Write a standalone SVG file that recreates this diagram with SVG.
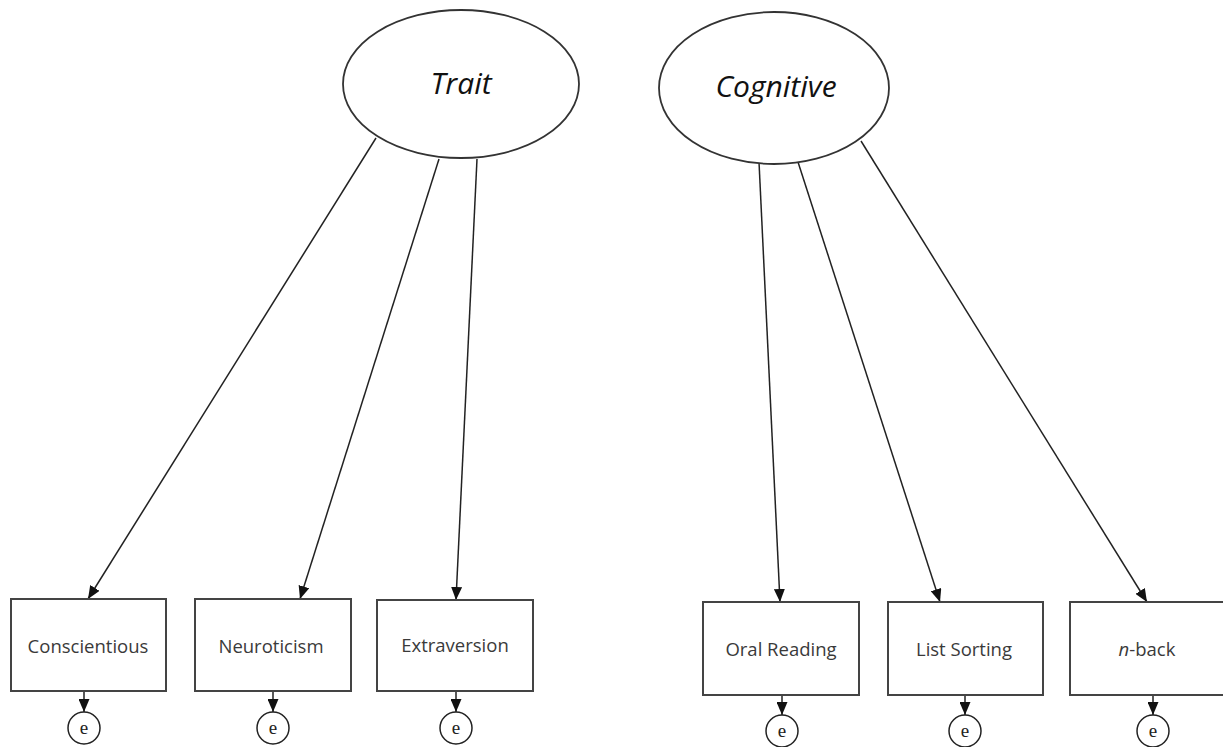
<svg xmlns="http://www.w3.org/2000/svg" width="1223" height="747" viewBox="0 0 1223 747">
<style>
.lat{fill:#fff;stroke:#333;stroke-width:1.8}
.lt{font-family:"Open Sans","Liberation Sans",sans-serif;font-style:italic;font-size:30px;fill:#111;text-anchor:middle}
.box{fill:#fff;stroke:#444;stroke-width:2}
.bt{font-family:"Open Sans","Liberation Sans",sans-serif;font-size:18.5px;fill:#3a3a3a;text-anchor:middle}
.err{fill:#fff;stroke:#222;stroke-width:1.5}
.et{font-family:"Liberation Serif",serif;font-size:19px;fill:#222;text-anchor:middle}
.c{stroke:#222;stroke-width:1.5;fill:none;marker-end:url(#ah)}
</style>
<defs>
<marker id="ah" markerUnits="userSpaceOnUse" markerWidth="13" markerHeight="11" viewBox="0 0 13 11" refX="13" refY="5.5" orient="auto">
<path d="M0,0 L13,5.5 L0,11 z" fill="#111"/>
</marker>
</defs>
<rect width="1223" height="747" fill="#fff"/>
<g id="connectors">
<line class="c" x1="376" y1="138" x2="88" y2="599"/>
<line class="c" x1="439" y1="159" x2="300" y2="599"/>
<line class="c" x1="477" y1="159" x2="456" y2="600"/>
<line class="c" x1="759" y1="162" x2="780" y2="602"/>
<line class="c" x1="798" y1="162" x2="940" y2="602"/>
<line class="c" x1="861" y1="141" x2="1147" y2="602"/>
<line class="c" x1="84" y1="692" x2="84" y2="712"/>
<line class="c" x1="273" y1="692" x2="273" y2="712"/>
<line class="c" x1="456" y1="692" x2="456" y2="712"/>
<line class="c" x1="782" y1="696" x2="782" y2="715"/>
<line class="c" x1="965" y1="696" x2="965" y2="715"/>
<line class="c" x1="1153" y1="696" x2="1153" y2="715"/>
</g>
<g id="trait">
<ellipse class="lat" cx="461" cy="84" rx="118" ry="74"/>
<text class="lt" x="461" y="94">Trait</text>
</g>
<g id="cognitive">
<ellipse class="lat" cx="774" cy="88" rx="115" ry="76"/>
<text class="lt" x="776" y="97">Cognitive</text>
</g>
<g id="conscientious">
<rect class="box" x="11" y="599" width="155" height="92"/>
<text class="bt" x="88" y="653">Conscientious</text>
</g>
<g id="neuroticism">
<rect class="box" x="195" y="599" width="156" height="92"/>
<text class="bt" x="271" y="653">Neuroticism</text>
</g>
<g id="extraversion">
<rect class="box" x="377" y="600" width="156" height="91"/>
<text class="bt" x="455" y="652">Extraversion</text>
</g>
<g id="oral-reading">
<rect class="box" x="703" y="602" width="156" height="93"/>
<text class="bt" x="781" y="656">Oral Reading</text>
</g>
<g id="list-sorting">
<rect class="box" x="888" y="602" width="155" height="93"/>
<text class="bt" x="964" y="656">List Sorting</text>
</g>
<g id="n-back">
<rect class="box" x="1070" y="602" width="156" height="93"/>
<text class="bt" x="1147" y="656"><tspan font-style="italic">n</tspan>-back</text>
</g>
<g id="e1"><circle class="err" cx="84" cy="728" r="16"/><text class="et" x="84" y="734">e</text></g>
<g id="e2"><circle class="err" cx="273" cy="728" r="16"/><text class="et" x="273" y="734">e</text></g>
<g id="e3"><circle class="err" cx="456" cy="728" r="16"/><text class="et" x="456" y="734">e</text></g>
<g id="e4"><circle class="err" cx="782" cy="731" r="16"/><text class="et" x="782" y="737">e</text></g>
<g id="e5"><circle class="err" cx="965" cy="731" r="16"/><text class="et" x="965" y="737">e</text></g>
<g id="e6"><circle class="err" cx="1153" cy="731" r="16"/><text class="et" x="1153" y="737">e</text></g>
</svg>
